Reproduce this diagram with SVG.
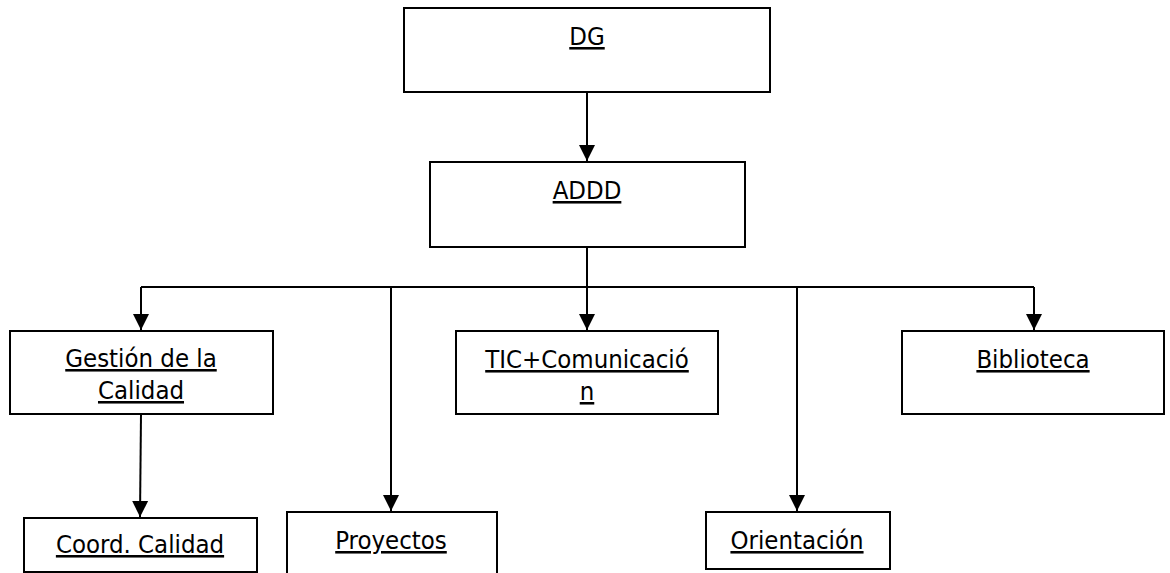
<svg xmlns="http://www.w3.org/2000/svg" width="1170" height="573" viewBox="0 0 1170 573">
<style>
.box{fill:#fff;stroke:#000;stroke-width:2}
.lbl{font-family:"DejaVu Sans Condensed","DejaVu Sans",Verdana,sans-serif;font-stretch:condensed;font-size:25.5px;fill:#000;text-anchor:middle;text-decoration:underline}
.con{fill:none;stroke:#000;stroke-width:2}
</style>
<defs>
<marker id="arr" markerUnits="userSpaceOnUse" markerWidth="18" markerHeight="18" viewBox="0 -9 18 18" refX="16" refY="0" orient="auto">
<path d="M0,-8 L16,0 L0,8 z" fill="#000"/>
</marker>
</defs>
<rect width="1170" height="573" fill="#fff"/>
<g id="connectors">
<line class="con" x1="587" y1="92" x2="587" y2="161" marker-end="url(#arr)"/>
<line class="con" x1="587" y1="247" x2="587" y2="287"/>
<line class="con" x1="141" y1="287" x2="1034" y2="287"/>
<line class="con" x1="141" y1="287" x2="141" y2="330" marker-end="url(#arr)"/>
<line class="con" x1="391" y1="287" x2="391" y2="511" marker-end="url(#arr)"/>
<line class="con" x1="587" y1="287" x2="587" y2="330" marker-end="url(#arr)"/>
<line class="con" x1="797" y1="287" x2="797" y2="511" marker-end="url(#arr)"/>
<line class="con" x1="1034" y1="287" x2="1034" y2="330" marker-end="url(#arr)"/>
<line class="con" x1="141" y1="414" x2="140" y2="517" marker-end="url(#arr)"/>
</g>
<g id="dg">
<rect class="box" x="404" y="8" width="366" height="84"/>
<text class="lbl" x="587" y="45">DG</text>
</g>
<g id="addd">
<rect class="box" x="430" y="162" width="315" height="85"/>
<text class="lbl" x="587" y="199">ADDD</text>
</g>
<g id="gestion">
<rect class="box" x="10" y="331" width="263" height="83"/>
<text class="lbl" x="141" y="367">Gestión de la</text>
<text class="lbl" x="141" y="399">Calidad</text>
</g>
<g id="tic">
<rect class="box" x="456" y="331" width="262" height="83"/>
<text class="lbl" x="587" y="368">TIC+Comunicació</text>
<text class="lbl" x="587" y="400">n</text>
</g>
<g id="biblioteca">
<rect class="box" x="902" y="331" width="262" height="83"/>
<text class="lbl" x="1033" y="368">Biblioteca</text>
</g>
<g id="coord">
<rect class="box" x="24" y="518" width="233" height="54"/>
<text class="lbl" x="140" y="553">Coord. Calidad</text>
</g>
<g id="proyectos">
<rect class="box" x="287" y="512" width="210" height="80"/>
<text class="lbl" x="391" y="549">Proyectos</text>
</g>
<g id="orientacion">
<rect class="box" x="706" y="512" width="184" height="57"/>
<text class="lbl" x="797" y="549">Orientación</text>
</g>
</svg>
